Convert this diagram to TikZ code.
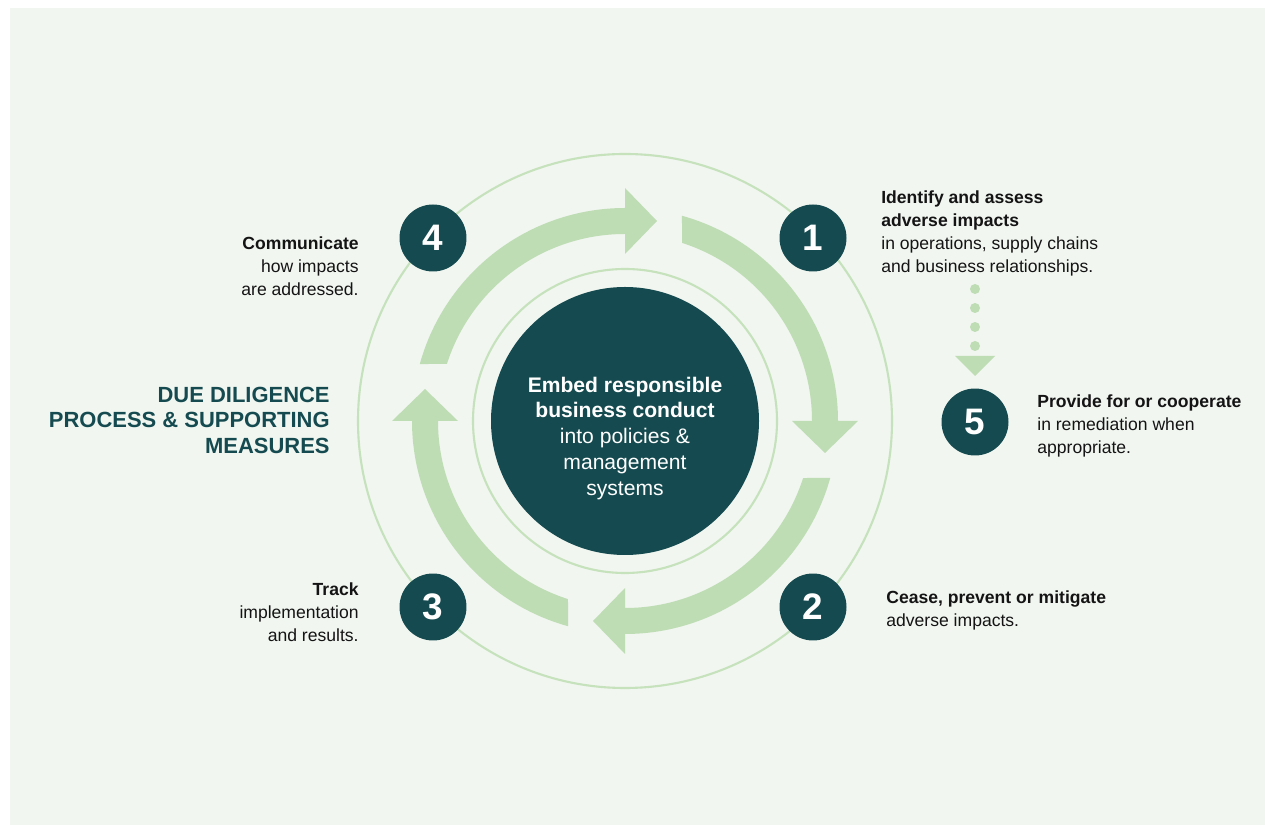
\documentclass[tikz,border=0pt]{standalone}
\usepackage{fontspec}
\setmainfont{Liberation Sans}
\definecolor{ddTeal}{HTML}{154B50}
\definecolor{ddLeaf}{HTML}{BFDDB5}
\definecolor{ddRing}{HTML}{C6E2BC}
\definecolor{ddPanel}{HTML}{F1F6F0}
\definecolor{ddInk}{HTML}{141414}
\tikzset{
  ring/.style     = {ddRing, line width=1.2pt},
  numcirc/.style  = {circle, fill=ddTeal, text=white, minimum size=1.34cm,
                     inner sep=0pt, font=\fontsize{21}{21}\selectfont\bfseries},
  sidetxt/.style  = {font=\fontsize{10}{13}\selectfont, text=ddInk, inner sep=0pt},
  hubtxt/.style   = {font=\fontsize{12}{14.7}\selectfont, text=white,
                     align=center, inner sep=0pt},
  titletxt/.style = {font=\fontsize{12.5}{14.7}\selectfont\bfseries, text=ddTeal,
                     align=right, inner sep=0pt},
  dotline/.style  = {ddLeaf, line width=0.2cm, line cap=round,
                     dash pattern=on 0pt off 0.38cm},
}

\begin{document}
\begin{tikzpicture}[x=0.02cm, y=0.02cm]
\newcommand{\ddarrow}[1]{% rotation of the quarter arc
  \begin{scope}[shift={(625,404)}, rotate=#1]
    \fill[ddLeaf] (74.48:213) arc[start angle=74.48, end angle=0, radius=213]
      -- (233,0) -- (200,-32) -- (167,0) -- (187,0)
      arc[start angle=0, end angle=72.25, radius=187] -- cycle;
  \end{scope}}
\useasboundingbox (0,0) rectangle (1265,825);
\fill[white] (0,0) rectangle (1265,825);
\fill[ddPanel] (10,0) rectangle (1265,817);
% rings and hub
\draw[ring] (625,404) circle[radius=267];
\draw[ring] (625,404) circle[radius=152];
\fill[ddTeal] (625,404) circle[radius=134];
\node[hubtxt, anchor=north] (hub) at (625,448.6)
  {\textbf{Embed responsible}\\\textbf{business conduct}\\into policies \&\\management\\systems};
% the cycle
\ddarrow{0}
\ddarrow{-90}
\ddarrow{-180}
\ddarrow{90}
\node[numcirc] (n1) at (813,587) {1};
\node[numcirc] (n2) at (813,218) {2};
\node[numcirc] (n3) at (433,218) {3};
\node[numcirc] (n4) at (433,587) {4};
\node[numcirc] (n5) at (975,403) {5};
% 1 leads on to 5
\coordinate (dotstart) at (975,536);
\coordinate (dotend) at (975,478.5);
\coordinate (tri) at (975,469);
\draw[dotline] (dotstart) -- (dotend);
\fill[ddLeaf] (tri) ++(-20,0) -- ++(40,0) -- ++(-20,-20) -- cycle;
% labels
\node[sidetxt, align=left, anchor=north west] (t1) at (881,634.5)
  {\textbf{Identify and assess}\\\textbf{adverse impacts}\\in operations, supply chains\\and business relationships.};
\node[sidetxt, align=left, anchor=north west] (t5) at (1037,430.5)
  {\textbf{Provide for or cooperate}\\in remediation when\\appropriate.};
\node[sidetxt, align=left, anchor=north west] (t2) at (886,234.5)
  {\textbf{Cease, prevent or mitigate}\\adverse impacts.};
\node[sidetxt, align=right, anchor=north east] (t3) at (359,242.5)
  {\textbf{Track}\\implementation\\and results.};
\node[sidetxt, align=right, anchor=north east] (t4) at (359,588.5)
  {\textbf{Communicate}\\how impacts\\are addressed.};
\node[titletxt, anchor=north east] (title) at (330,438.6)
  {DUE DILIGENCE\\PROCESS \& SUPPORTING\\MEASURES};
\end{tikzpicture}
\end{document}
